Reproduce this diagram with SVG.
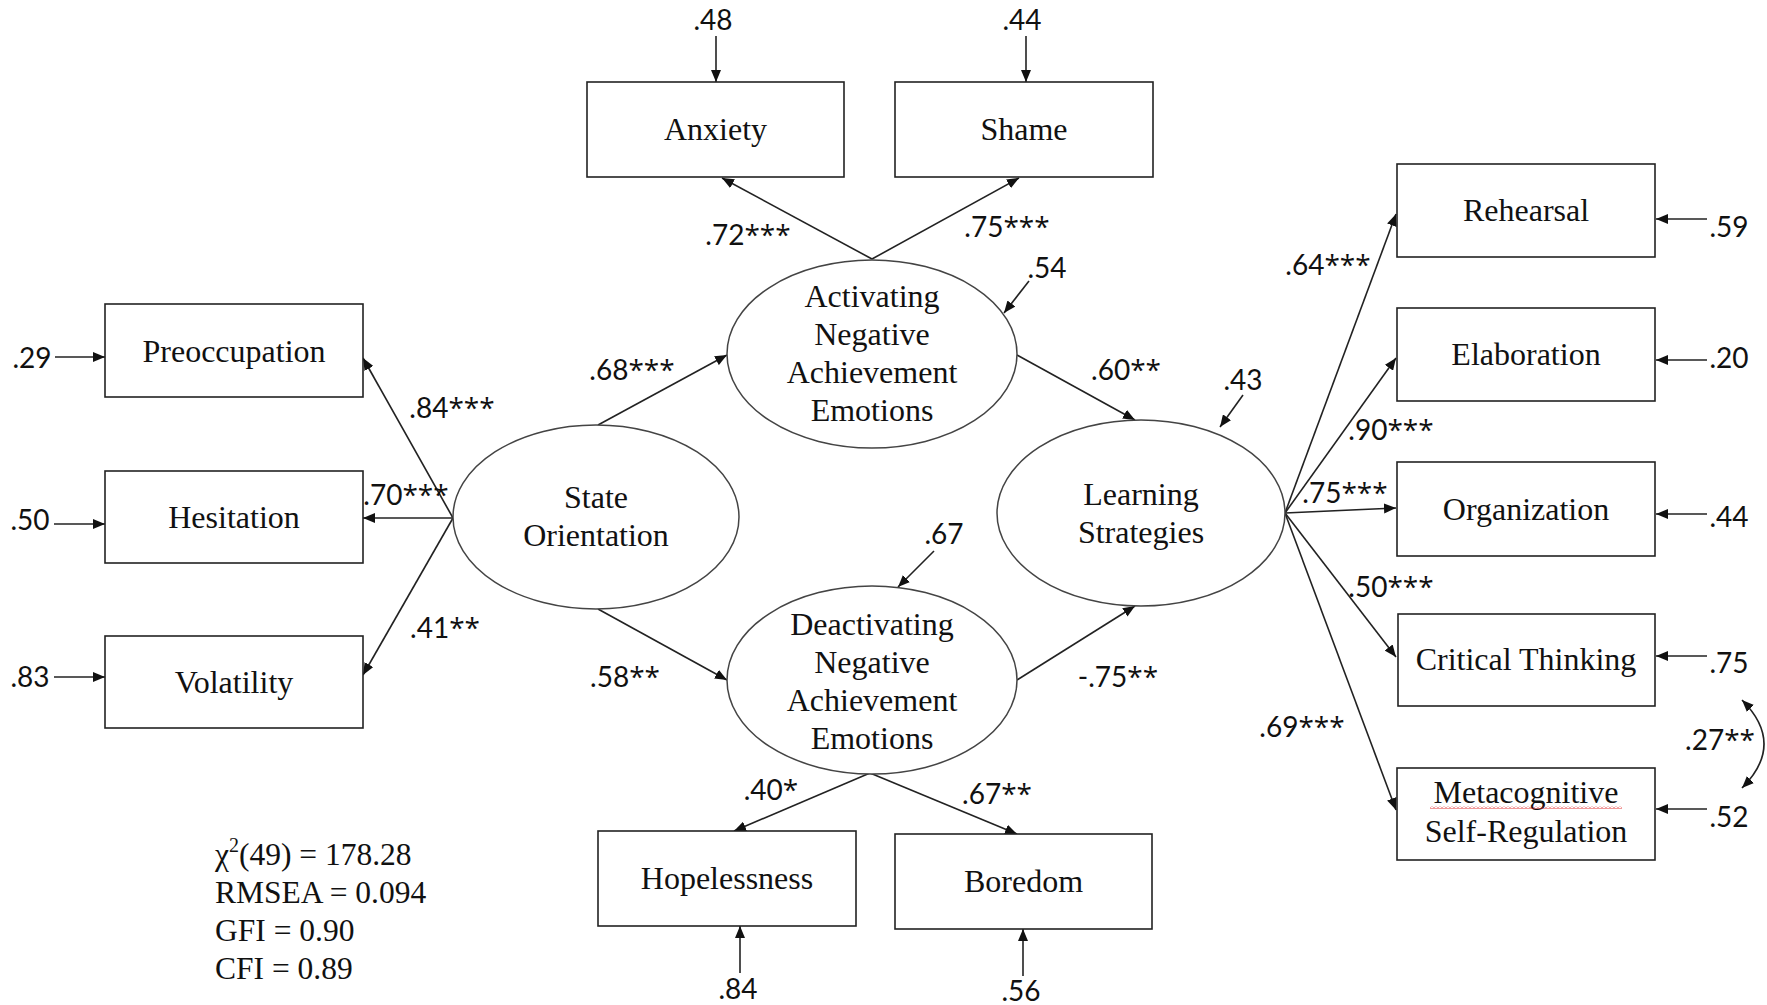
<svg xmlns="http://www.w3.org/2000/svg" width="1767" height="1005" viewBox="0 0 1767 1005">
<defs>
<style>
.box{fill:#fff;stroke:#222;stroke-width:1.6}
.ell{fill:#fff;stroke:#444;stroke-width:1.5}
.ln{fill:none;stroke:#222;stroke-width:1.6;marker-end:url(#ah)}
.t{font-family:"Liberation Serif","Times New Roman",serif;font-size:32px;fill:#111;text-anchor:middle}
.s{font-family:"Liberation Serif","Times New Roman",serif;font-size:31.5px;fill:#111}
.n{font-family:Lato,"Liberation Sans",sans-serif;font-size:28px;fill:#111;text-anchor:middle}
.a{font-family:"Open Sans","Liberation Sans",sans-serif;font-size:28px}
</style>
<marker id="ah" markerWidth="12" markerHeight="10" refX="12" refY="5" orient="auto" markerUnits="userSpaceOnUse"><path d="M0,0 L12,5 L0,10 z" fill="#111"/></marker>
<marker id="ah2" markerWidth="12" markerHeight="10" refX="12" refY="5" orient="auto-start-reverse" markerUnits="userSpaceOnUse"><path d="M0,0 L12,5 L0,10 z" fill="#111"/></marker>
<pattern id="wavy" width="4" height="3" patternUnits="userSpaceOnUse"><path d="M0,2.5 L2,0.5 L4,2.5" fill="none" stroke="#e02020" stroke-width="0.9"/></pattern>
</defs>
<rect width="1767" height="1005" fill="#fff"/>

<g id="connectors">
<line class="ln" x1="453" y1="518" x2="363" y2="358"/>
<line class="ln" x1="453" y1="518" x2="363" y2="518"/>
<line class="ln" x1="453" y1="518" x2="363" y2="675"/>
<line class="ln" x1="55" y1="357" x2="105" y2="357"/>
<line class="ln" x1="54" y1="524" x2="105" y2="524"/>
<line class="ln" x1="54" y1="677" x2="105" y2="677"/>
<line class="ln" x1="598" y1="425" x2="727" y2="355"/>
<line class="ln" x1="598" y1="609" x2="727" y2="680"/>
<line class="ln" x1="1017" y1="355" x2="1135" y2="420"/>
<line class="ln" x1="1017" y1="680" x2="1135" y2="606"/>
<line class="ln" x1="872" y1="259" x2="722" y2="178"/>
<line class="ln" x1="872" y1="259" x2="1019" y2="178"/>
<line class="ln" x1="716" y1="36" x2="716" y2="82"/>
<line class="ln" x1="1026" y1="36" x2="1026" y2="82"/>
<line class="ln" x1="1029" y1="281" x2="1004" y2="313"/>
<line class="ln" x1="870" y1="773" x2="734" y2="831"/>
<line class="ln" x1="870" y1="773" x2="1017" y2="834"/>
<line class="ln" x1="740" y1="973" x2="740" y2="926"/>
<line class="ln" x1="1023" y1="976" x2="1023" y2="929"/>
<line class="ln" x1="934" y1="551" x2="898" y2="587"/>
<line class="ln" x1="1285" y1="513" x2="1396" y2="214"/>
<line class="ln" x1="1285" y1="513" x2="1396" y2="358"/>
<line class="ln" x1="1285" y1="513" x2="1396" y2="508"/>
<line class="ln" x1="1285" y1="513" x2="1396" y2="657"/>
<line class="ln" x1="1285" y1="513" x2="1396" y2="810"/>
<line class="ln" x1="1243" y1="395" x2="1220" y2="427"/>
<line class="ln" x1="1707" y1="219" x2="1656" y2="219"/>
<line class="ln" x1="1707" y1="360" x2="1656" y2="360"/>
<line class="ln" x1="1707" y1="514" x2="1656" y2="514"/>
<line class="ln" x1="1707" y1="656" x2="1656" y2="656"/>
<line class="ln" x1="1707" y1="809" x2="1656" y2="809"/>
<path d="M1742,700 Q1786,744 1742,788" fill="none" stroke="#222" stroke-width="1.6" marker-start="url(#ah2)" marker-end="url(#ah2)"/>
</g>

<g id="preoccupation"><rect class="box" x="105" y="304" width="258" height="93"/><text class="t" x="234" y="362">Preoccupation</text></g>
<g id="hesitation"><rect class="box" x="105" y="471" width="258" height="92"/><text class="t" x="234" y="528">Hesitation</text></g>
<g id="volatility"><rect class="box" x="105" y="636" width="258" height="92"/><text class="t" x="234" y="693">Volatility</text></g>
<g id="anxiety"><rect class="box" x="587" y="82" width="257" height="95"/><text class="t" x="715.5" y="140">Anxiety</text></g>
<g id="shame"><rect class="box" x="895" y="82" width="258" height="95"/><text class="t" x="1024" y="140">Shame</text></g>
<g id="hopelessness"><rect class="box" x="598" y="831" width="258" height="95"/><text class="t" x="727" y="889">Hopelessness</text></g>
<g id="boredom"><rect class="box" x="895" y="834" width="257" height="95"/><text class="t" x="1023.5" y="892">Boredom</text></g>
<g id="rehearsal"><rect class="box" x="1397" y="164" width="258" height="93"/><text class="t" x="1526" y="221">Rehearsal</text></g>
<g id="elaboration"><rect class="box" x="1397" y="308" width="258" height="93"/><text class="t" x="1526" y="365">Elaboration</text></g>
<g id="organization"><rect class="box" x="1397" y="462" width="258" height="94"/><text class="t" x="1526" y="520">Organization</text></g>
<g id="critical-thinking"><rect class="box" x="1398" y="614" width="257" height="92"/><text class="t" x="1526" y="670">Critical Thinking</text></g>
<g id="metacognitive"><rect class="box" x="1397" y="768" width="258" height="92"/><text class="t" x="1526" y="803">Metacognitive</text><rect x="1430" y="806" width="192" height="3" fill="url(#wavy)"/><text class="t" x="1526" y="842">Self-Regulation</text></g>

<g id="state-orientation"><ellipse class="ell" cx="596" cy="517" rx="143" ry="92"/><text class="t" x="596" y="508">State</text><text class="t" x="596" y="546">Orientation</text></g>
<g id="activating"><ellipse class="ell" cx="872" cy="354" rx="145" ry="94"/><text class="t" x="872" y="307">Activating</text><text class="t" x="872" y="345">Negative</text><text class="t" x="872" y="383">Achievement</text><text class="t" x="872" y="421">Emotions</text></g>
<g id="learning-strategies"><ellipse class="ell" cx="1141" cy="513" rx="144" ry="93"/><text class="t" x="1141" y="505">Learning</text><text class="t" x="1141" y="543">Strategies</text></g>
<g id="deactivating"><ellipse class="ell" cx="872" cy="680" rx="145" ry="94"/><text class="t" x="872" y="635">Deactivating</text><text class="t" x="872" y="673">Negative</text><text class="t" x="872" y="711">Achievement</text><text class="t" x="872" y="749">Emotions</text></g>

<g id="labels">
<text class="n" x="713" y="30">.48</text>
<text class="n" x="1022" y="30">.44</text>
<text class="n" x="748" y="245">.72<tspan class="a">***</tspan></text>
<text class="n" x="1007" y="237">.75<tspan class="a">***</tspan></text>
<text class="n" x="1047" y="278">.54</text>
<text class="n" x="632" y="380">.68<tspan class="a">***</tspan></text>
<text class="n" x="1126" y="380">.60<tspan class="a">**</tspan></text>
<text class="n" x="1243" y="390">.43</text>
<text class="n" x="452" y="418">.84<tspan class="a">***</tspan></text>
<text class="n" x="406" y="505">.70<tspan class="a">***</tspan></text>
<text class="n" x="445" y="638">.41<tspan class="a">**</tspan></text>
<text class="n" x="32" y="368">.29</text>
<text class="n" x="30" y="530">.50</text>
<text class="n" x="30" y="687">.83</text>
<text class="n" x="944" y="544">.67</text>
<text class="n" x="625" y="687">.58<tspan class="a">**</tspan></text>
<text class="n" x="1118" y="687">-.75<tspan class="a">**</tspan></text>
<text class="n" x="771" y="800">.40<tspan class="a">*</tspan></text>
<text class="n" x="997" y="804">.67<tspan class="a">**</tspan></text>
<text class="n" x="738" y="999">.84</text>
<text class="n" x="1021" y="1001">.56</text>
<text class="n" x="1328" y="275">.64<tspan class="a">***</tspan></text>
<text class="n" x="1391" y="440">.90<tspan class="a">***</tspan></text>
<text class="n" x="1345" y="503">.75<tspan class="a">***</tspan></text>
<text class="n" x="1391" y="597">.50<tspan class="a">***</tspan></text>
<text class="n" x="1302" y="737">.69<tspan class="a">***</tspan></text>
<text class="n" x="1729" y="237">.59</text>
<text class="n" x="1729" y="368">.20</text>
<text class="n" x="1729" y="527">.44</text>
<text class="n" x="1729" y="673">.75</text>
<text class="n" x="1729" y="827">.52</text>
<text class="n" x="1720" y="750">.27<tspan class="a">**</tspan></text>
</g>

<g id="fit-statistics">
<text class="s" x="215" y="865">χ<tspan font-size="20" dy="-13">2</tspan><tspan dy="13">(49) = 178.28</tspan></text>
<text class="s" x="215" y="903">RMSEA = 0.094</text>
<text class="s" x="215" y="941">GFI = 0.90</text>
<text class="s" x="215" y="979">CFI = 0.89</text>
</g>
</svg>
